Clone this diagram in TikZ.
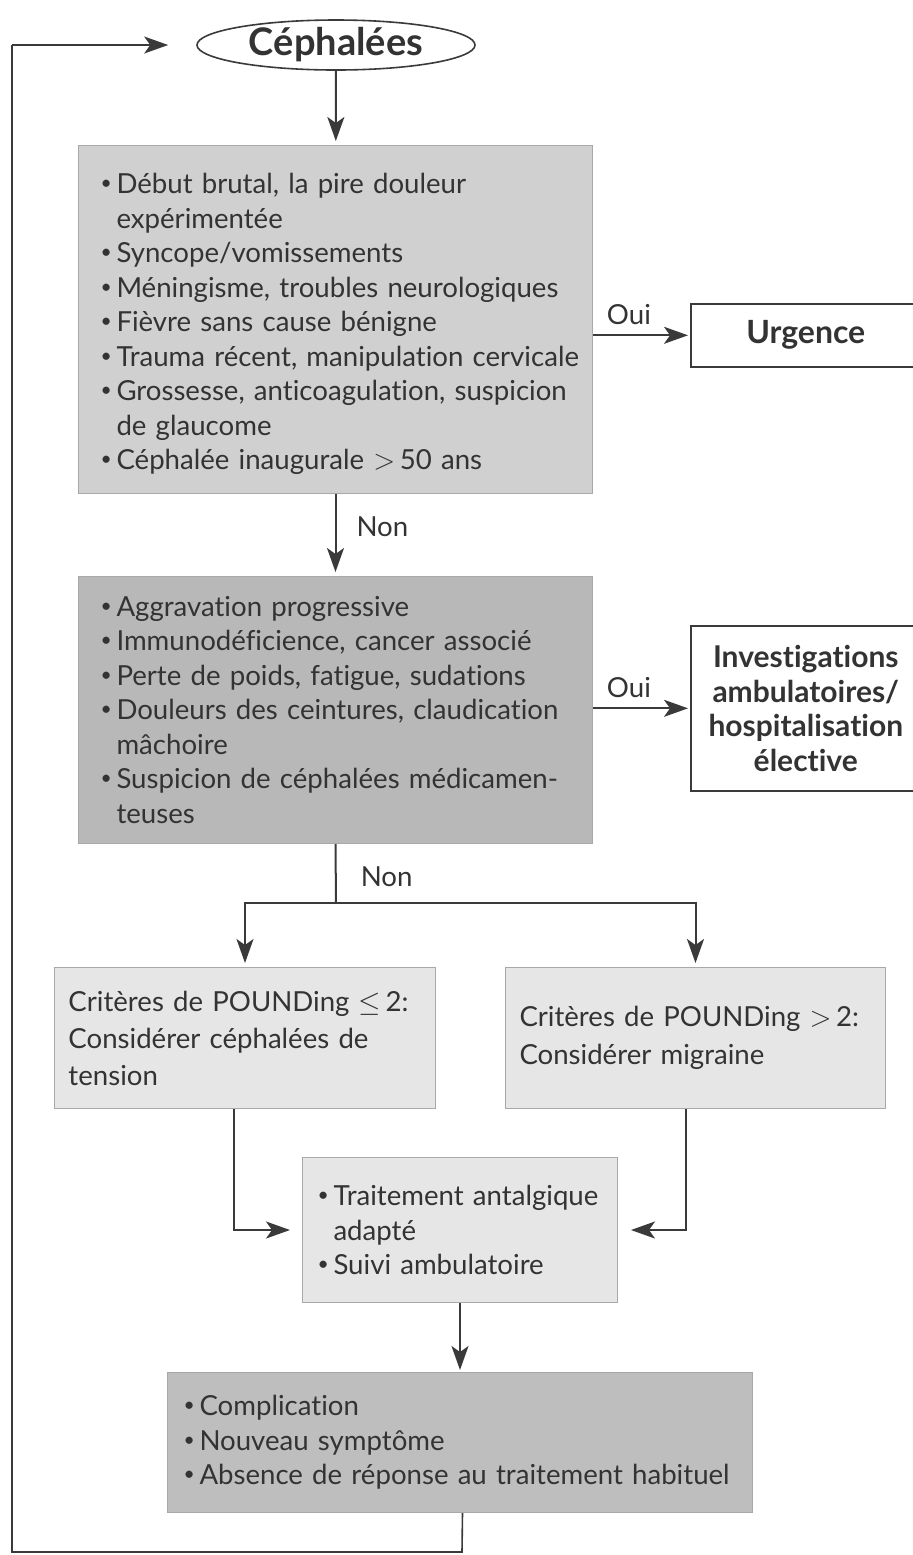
\documentclass[tikz,border=0pt]{standalone}
\usepackage{fontspec}
\setmainfont{Lato}[Ligatures=NoCommon]
\usepackage{graphicx}
\usetikzlibrary{arrows.meta,shapes.geometric,calc}
\definecolor{ink}{HTML}{333333}
\definecolor{linec}{HTML}{3a3a3a}
\definecolor{gA}{HTML}{d0d0d0}
\definecolor{gB}{HTML}{b8b8b8}
\definecolor{gC}{HTML}{e6e6e6}
\definecolor{gD}{HTML}{bebebe}
\definecolor{bordg}{HTML}{a8a8a8}
\newcommand\bodyfont{\fontsize{13.8}{17.25}\selectfont}
\newcommand\bl{\makebox[8pt][l]{\raisebox{0.3ex}{\scalebox{0.7}{\textbullet}}}}
\newcommand\hi{\hspace*{8pt}}
\begin{document}
\begin{tikzpicture}[x=0.5pt,y=-0.5pt,
  txt/.style={text=ink,font=\bodyfont},
  gbox/.style={txt,draw=bordg,line width=0.5pt,anchor=north west,align=left,inner ysep=0pt},
  wbox/.style={draw=linec,line width=0.8pt,anchor=north west,align=center,text=ink,
     font=\fontsize{15}{17.25}\selectfont\bfseries,inner sep=0pt},
  arr/.style={draw=linec,line width=1pt,-{Stealth[length=12pt,width=8.5pt,inset=3pt]}},
  ln/.style={draw=linec,line width=1pt},
  lbl/.style={txt,inner sep=0pt}]
\useasboundingbox (0,0) rectangle (912,1555);

\node[draw=linec,line width=0.8pt,ellipse,minimum width=139pt,minimum height=25pt,inner sep=0pt,
  text=ink,font=\fontsize{19}{21}\selectfont\bfseries] (ceph) at (336,45) {Céphalées};

\node[gbox,fill=gA,minimum width=257pt,minimum height=174pt,text width=235pt,inner xsep=11pt]
  (b1) at (78,145) {\rule{0pt}{15pt}\bl Début brutal, la pire douleur\\
\hi expérimentée\\
\bl Syncope/vomissements\\
\bl Méningisme, troubles neurologiques\\
\bl Fièvre sans cause bénigne\\
\mbox{\bl Trauma récent, manipulation cervicale}\\
\bl Grossesse, anticoagulation, suspicion\\
\hi de glaucome\\
\bl Céphalée inaugurale $>$\,50 ans};

\node[wbox,minimum width=115pt,minimum height=31.5pt,font=\fontsize{16}{17.25}\selectfont\bfseries]
  (urg) at (690,303) {Urgence};

\node[gbox,fill=gB,minimum width=257pt,minimum height=133.5pt,text width=235pt,inner xsep=11pt]
  (b2) at (78,576) {\bl Aggravation progressive\\
\bl Immunodéficience, cancer associé\\
\bl Perte de poids, fatigue, sudations\\
\mbox{\bl Douleurs des ceintures, claudication}\\
\hi mâchoire\\
\mbox{\bl Suspicion de céphalées médicamen-}\\
\hi teuses};

\node[wbox,minimum width=115pt,minimum height=82.5pt] (inv) at (690,625)
  {Investigations\\ambulatoires/\\hospitalisation\\élective};

\node[gbox,fill=gC,minimum width=190.5pt,minimum height=70.5pt,text width=176.5pt,inner xsep=7pt,
  font=\fontsize{13.8}{18.5}\selectfont] (pl) at (54,967)
  {\mbox{Critères de POUNDing $\leq$\,2:}\\Considérer céphalées de\\tension};

\node[gbox,fill=gC,minimum width=190pt,minimum height=70.5pt,text width=176pt,inner xsep=7pt,
  font=\fontsize{13.8}{19}\selectfont] (pr) at (505,967)
  {\mbox{Critères de POUNDing $>$\,2:}\\Considérer migraine};

\node[gbox,fill=gC,minimum width=157.5pt,minimum height=72.5pt,text width=142.5pt,inner xsep=7.5pt]
  (tr) at (302,1157) {\bl Traitement antalgique\\\hi adapté\\\bl Suivi ambulatoire};

\node[gbox,fill=gD,minimum width=292.5pt,minimum height=70pt,text width=276.5pt,inner xsep=8pt]
  (cp) at (167,1372) {\bl Complication\\\bl Nouveau symptôme\\\mbox{\bl Absence de réponse au traitement habituel}};

\coordinate (split) at (336,903);
\coordinate (bl) at (462,1552);
\coordinate (br) at (12,1552);
\coordinate (tl) at (12,45);

\draw[arr,shorten >=2pt] (ceph) -- (b1);
\draw[arr,shorten >=1pt] (b1.east |- urg.west) -- node[lbl,pos=0.37,above=5pt]{Oui} (urg.west);
\draw[arr,shorten >=2pt] (b1) -- node[lbl,right=10pt,pos=0.4]{Non} (b2);
\draw[arr,shorten >=1pt] (b2.east |- inv.west) -- node[lbl,pos=0.37,above=5pt]{Oui} (inv.west);
\draw[ln] (b2.south) -- node[lbl,right=12pt,pos=0.55]{Non} (split);
\draw[arr,shorten >=2pt] (split) -| (pl.north);
\draw[arr,shorten >=2pt] (split) -| (pr.north);
\draw[arr,shorten >=6pt] ([xshift=-5.75pt]pl.south) |- (tr.west);
\draw[arr,shorten >=6.5pt] ([xshift=-5pt]pr.south) |- (tr.east);
\draw[arr,shorten >=1pt] (tr) -- (cp);
\draw[ln,line width=0.8pt] ([xshift=1.25pt]cp.south) -- (bl) -- (br) -- (tl);
\draw[arr,line width=0.8pt,shorten >=14pt] (tl) -- (ceph.west);
\end{tikzpicture}
\end{document}
